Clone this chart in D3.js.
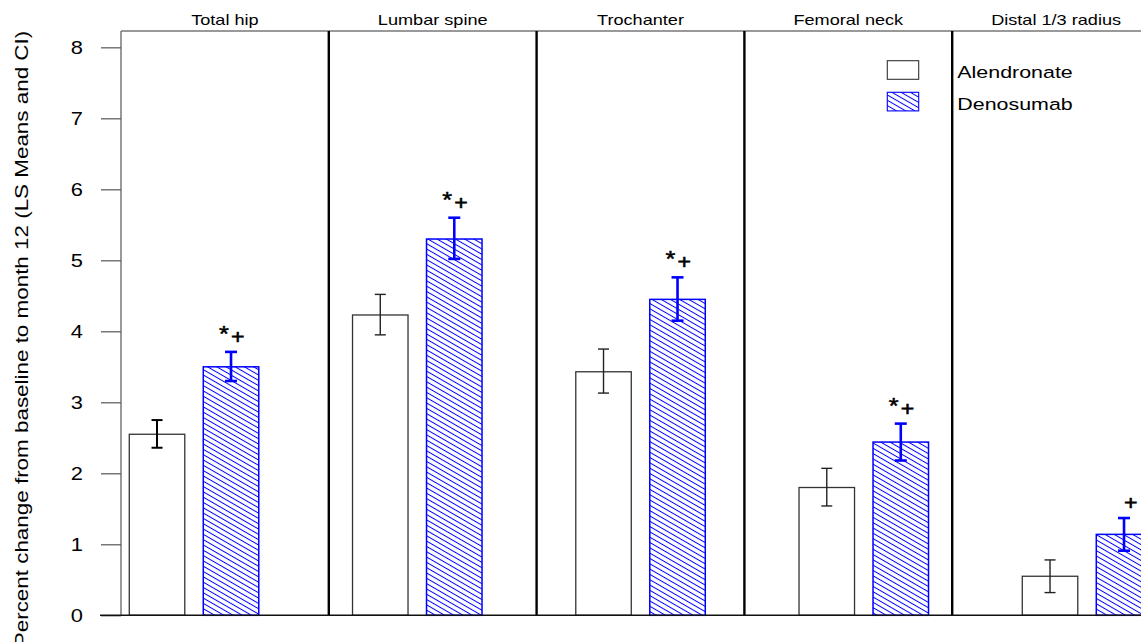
<!DOCTYPE html>
<html>
<head>
<meta charset="utf-8">
<script src="https://cdn.jsdelivr.net/npm/d3@7"></script>
<style>
  html, body { margin: 0; padding: 0; background: #fff; }
  svg { display: block; font-family: "Liberation Sans", Arial, sans-serif; }
</style>
</head>
<body>
<svg id="chart" width="1141" height="642"></svg>
<script>
// ---- data ----
const categories = ["Total hip", "Lumbar spine", "Trochanter", "Femoral neck", "Distal 1/3 radius"];
const seriesNames = ["Alendronate", "Denosumab"];
const alnMean = [2.55, 4.23, 3.43, 1.80, 0.55];
const alnLow  = [2.36, 3.95, 3.13, 1.54, 0.32];
const alnHigh = [2.75, 4.52, 3.75, 2.07, 0.78];
const denMean = [3.50, 5.30, 4.45, 2.44, 1.14];
const denLow  = [3.30, 5.02, 4.15, 2.18, 0.91];
const denHigh = [3.71, 5.60, 4.76, 2.70, 1.37];
const annotations = ["*+", "*+", "*+", "*+", "+"];
const yTicks = [0, 1, 2, 3, 4, 5, 6, 7, 8];
const yLabel = "Percent change from baseline to month 12 (LS Means and CI)";

// ---- layout ----
const W = 1141, H = 642;
const svg = d3.select("#chart");
const plotLeft = 121, plotTop = 31, plotBottom = 615.3;
const panelW = 207.8;

const y = d3.scaleLinear().domain([0, 8.23]).range([plotBottom, plotTop]);
const xPanel = d3.scaleBand().domain(categories).range([plotLeft, plotLeft + panelW * categories.length]);
const groupStep = 223.25;
const groupStart = 82.4;
const xGroup = d3.scaleBand().domain(categories).range([groupStart, groupStart + groupStep * categories.length]);
const innerW = 129.5;
const xInner = d3.scaleBand().domain(seriesNames)
  .range([xGroup.bandwidth() / 2 - innerW / 2, xGroup.bandwidth() / 2 + innerW / 2])
  .paddingInner(0.25).paddingOuter(0);

const BLUE = "#0000ff";

// hatch pattern
const defs = svg.append("defs");
const pat = defs.append("pattern")
  .attr("id", "hatch").attr("patternUnits", "userSpaceOnUse")
  .attr("width", 10).attr("height", 4.6)
  .attr("patternTransform", "rotate(30)");
pat.append("rect").attr("width", 10).attr("height", 4.6).attr("fill", "#fff");
pat.append("line").attr("x1", 0).attr("x2", 10).attr("y1", 2.3).attr("y2", 2.3)
  .attr("stroke", BLUE).attr("stroke-width", 1);

// frame: top line and left axis
svg.append("line").attr("x1", plotLeft).attr("x2", W).attr("y1", plotTop).attr("y2", plotTop)
  .attr("stroke", "#777").attr("stroke-width", 1.3);

// y axis
const yAxis = d3.axisLeft(y).tickValues(yTicks).tickSize(20).tickFormat(d3.format("d"));
const gy = svg.append("g").attr("transform", `translate(${plotLeft},0)`).call(yAxis);
gy.select(".domain").attr("stroke", "#777").attr("stroke-width", 1.5)
  .attr("d", `M0,${plotTop}V${plotBottom}`);
gy.selectAll(".tick line").attr("stroke", "#555").attr("stroke-width", 1.2);
gy.selectAll(".tick text")
  .attr("x", 0).attr("dy", "0.36em")
  .attr("text-anchor", "end")
  .attr("transform", "translate(-38,0) scale(1.25,1)")
  .style("font-size", "17.5px").attr("fill", "#000")
  .style("font-family", "'Liberation Sans', Arial, sans-serif");

// panel dividers
svg.append("g").selectAll("line").data(categories.slice(1)).join("line")
  .attr("x1", d => xPanel(d)).attr("x2", d => xPanel(d))
  .attr("y1", plotTop).attr("y2", plotBottom)
  .attr("stroke", "#000").attr("stroke-width", 2.4);

// panel titles
svg.append("g").selectAll("text").data(categories).join("text")
  .attr("transform", d => `translate(${xPanel(d) + xPanel.bandwidth() / 2},25) scale(1.25,1)`)
  .attr("text-anchor", "middle").style("font-size", "14.5px").attr("fill", "#000")
  .text(d => d);

// bars
const gBars = svg.append("g");
categories.forEach((c, i) => {
  const gx = xGroup(c);
  gBars.append("rect")
    .attr("x", gx + xInner("Alendronate")).attr("width", xInner.bandwidth())
    .attr("y", y(alnMean[i])).attr("height", y(0) - y(alnMean[i]))
    .attr("fill", "#fff").attr("stroke", "#333").attr("stroke-width", 1.3);
  gBars.append("rect")
    .attr("x", gx + xInner("Denosumab")).attr("width", xInner.bandwidth())
    .attr("y", y(denMean[i])).attr("height", y(0) - y(denMean[i]))
    .attr("fill", "url(#hatch)").attr("stroke", BLUE).attr("stroke-width", 1.5);
});

// error bars
function errBar(g, cx, lo, hi, color, sw, capW) {
  g.append("line").attr("x1", cx).attr("x2", cx).attr("y1", y(lo)).attr("y2", y(hi))
    .attr("stroke", color).attr("stroke-width", sw);
  [lo, hi].forEach(v => g.append("line")
    .attr("x1", cx - capW / 2).attr("x2", cx + capW / 2).attr("y1", y(v)).attr("y2", y(v))
    .attr("stroke", color).attr("stroke-width", sw));
}
const gErr = svg.append("g");
categories.forEach((c, i) => {
  const ca = xGroup(c) + xInner("Alendronate") + xInner.bandwidth() / 2;
  const cd = xGroup(c) + xInner("Denosumab") + xInner.bandwidth() / 2;
  errBar(gErr, ca, alnLow[i], alnHigh[i], i === 0 ? "#000" : "#222", i === 0 ? 2 : 1.4, 11);
  errBar(gErr, cd, denLow[i], denHigh[i], BLUE, 2.6, 12);
});

// significance annotations
const gAnn = svg.append("g").attr("fill", "#000");
categories.forEach((c, i) => {
  const cd = xGroup(c) + xInner("Denosumab") + xInner.bandwidth() / 2;
  const top = y(denHigh[i]);
  const a = annotations[i];
  if (a.includes("*")) {
    gAnn.append("text").attr("transform", `translate(${cd - 7},${top - 11}) scale(1.15,1)`)
      .attr("text-anchor", "middle").style("font-size", "22px")
      .attr("stroke", "#000").attr("stroke-width", 0.5).text("*");
  }
  if (a.includes("+")) {
    gAnn.append("text").attr("transform", `translate(${cd + 6.7},${top - 8}) scale(1.1,1)`)
      .attr("text-anchor", "middle").style("font-size", "21px")
      .attr("stroke", "#000").attr("stroke-width", 0.6).text("+");
  }
});

// x baseline
svg.append("line").attr("x1", 100).attr("x2", W).attr("y1", y(0)).attr("y2", y(0))
  .attr("stroke", "#111").attr("stroke-width", 1.5);

// y label
svg.append("text")
  .attr("transform", `translate(28,339) rotate(-90) scale(1.18,1)`)
  .attr("text-anchor", "middle").style("font-size", "19px").attr("fill", "#000")
  .text(yLabel);

// legend
const legend = svg.append("g").attr("transform", "translate(887.3,60.7)");
const legFill = ["#fff", "url(#hatch)"];
const legStroke = ["#333", BLUE];
seriesNames.forEach((s, i) => {
  const row = legend.append("g").attr("transform", `translate(0,${i * 31.6})`);
  row.append("rect").attr("width", 31.4).attr("height", 18.6)
    .attr("fill", legFill[i]).attr("stroke", legStroke[i]).attr("stroke-width", 1.1);
  row.append("text").attr("transform", "translate(70,17.6) scale(1.26,1)")
    .style("font-size", "17px").attr("fill", "#000").text(s);
});
</script>
</body>
</html>
